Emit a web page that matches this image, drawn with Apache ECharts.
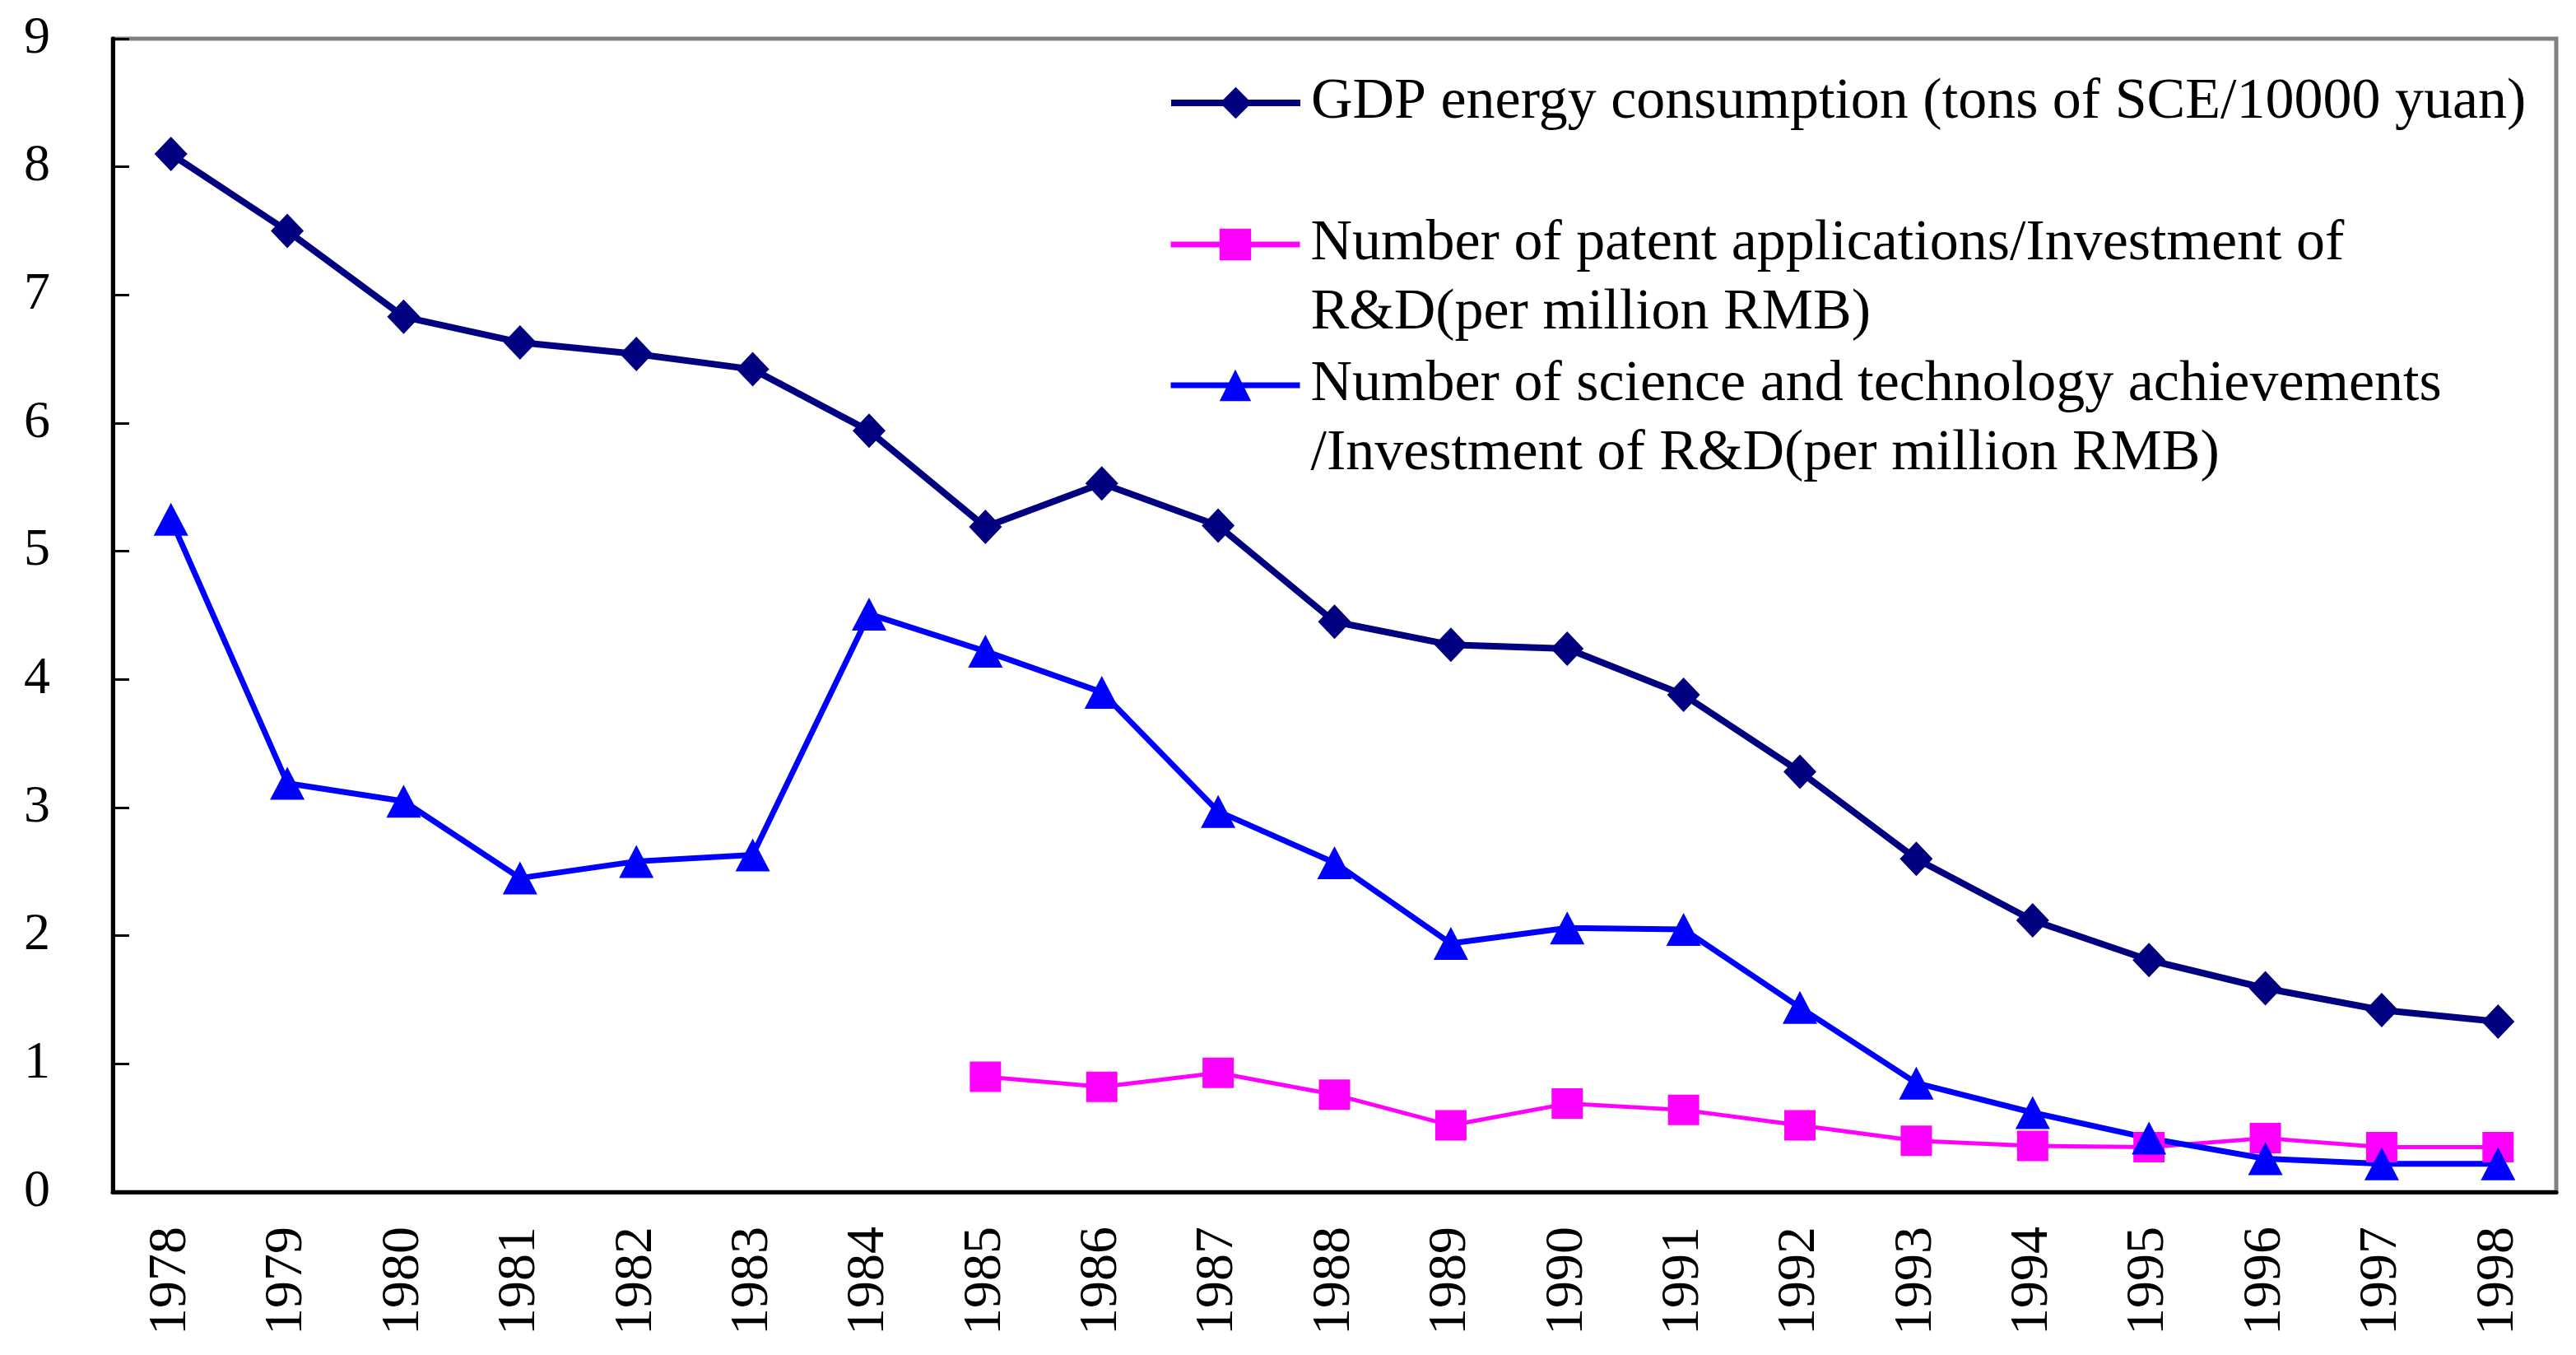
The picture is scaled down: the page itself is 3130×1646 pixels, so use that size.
<!DOCTYPE html>
<html>
<head>
<meta charset="utf-8">
<script src="https://cdn.jsdelivr.net/npm/echarts@6/dist/echarts.min.js"></script>
<style>
    html, body { margin: 0; padding: 0; background: #fff; }
    #div_chart { width: 3130px; height: 1646px; }
</style>
</head>
<body>
<div id="div_chart"></div>
<script>
// years on the x axis
var years = ['1978', '1979', '1980', '1981', '1982', '1983', '1984', '1985', '1986', '1987', '1988',
    '1989', '1990', '1991', '1992', '1993', '1994', '1995', '1996', '1997', '1998'];
// GDP energy consumption (tons of SCE/10000 yuan)
var gdpEnergy = [8.10, 7.50, 6.83, 6.63, 6.54, 6.42, 5.94, 5.19, 5.53, 5.20, 4.45,
    4.27, 4.24, 3.88, 3.28, 2.60, 2.12, 1.81, 1.59, 1.42, 1.33];
// patent applications / R&D investment, no data before 1985
var patentPerRD = [null, null, null, null, null, null, null, 0.90, 0.82, 0.93, 0.76,
    0.52, 0.69, 0.64, 0.52, 0.40, 0.36, 0.35, 0.42, 0.35, 0.35];
// science and technology achievements / R&D investment
var achievePerRD = [5.25, 3.19, 3.05, 2.45, 2.58, 2.63, 4.51, 4.22, 3.90, 2.97, 2.57,
    1.94, 2.06, 2.05, 1.44, 0.85, 0.62, 0.42, 0.26, 0.22, 0.22];
// y axis range
var yMin = 0, yMax = 9, yStep = 1;

var names = [
    'GDP energy consumption (tons of SCE/10000 yuan)',
    'Number of patent applications/Investment of R&D(per million RMB)',
    'Number of science and technology achievements /Investment of R&D(per million RMB)'
];
// legend text, first line sits beside the icon
var legendText = {};
legendText[names[0]] = 'GDP energy consumption (tons of SCE/10000 yuan)';
legendText[names[1]] = ' \nNumber of patent applications/Investment of\nR&D(per million RMB)';
legendText[names[2]] = ' \nNumber of science and technology achievements\n/Investment of R&D(per million RMB)';

var appChart = {
    chart: null,
    font: 'Liberation Serif, Times New Roman, serif',
    init: function init() {
        this.chart = echarts.init(document.getElementById('div_chart'));
        this.chart.setOption(this.getOption());
    },
    //单个图例
    getLegend: function getLegend(name, top, lineWidth) {
        var that = this;
        return {
            data: [name],
            left: 1419,
            top: top,
            padding: 0,
            itemWidth: 157,
            itemHeight: 48,
            itemGap: 0,
            selectedMode: false,
            lineStyle: { width: lineWidth },
            formatter: function (n) {
                return legendText[n];
            },
            textStyle: {
                color: '#000',
                fontFamily: that.font,
                fontSize: 70,
                lineHeight: 84,
                padding: [0, 0, 0, 8]
            }
        };
    },
    getOption: function getOption() {
        var that = this;
        var option = {
            animation: false,
            backgroundColor: '#fff',
            grid: {
                left: 137,
                right: 24,
                top: 47,
                bottom: 198,
                show: true,
                borderColor: '#808080',
                borderWidth: 5
            },
            legend: [
                that.getLegend(names[0], 83, 8),
                that.getLegend(names[1], 171, 7),
                that.getLegend(names[2], 342, 7)
            ],
            xAxis: {
                type: 'category',
                data: years,
                boundaryGap: true,
                axisLine: { lineStyle: { color: '#000', width: 5 } },
                axisTick: { inside: true, length: 20, interval: 0, lineStyle: { color: '#000', width: 3 } },
                axisLabel: {
                    interval: 0,
                    rotate: 90,
                    margin: 42,
                    color: '#000',
                    fontFamily: that.font,
                    fontSize: 66
                },
                splitLine: { show: false }
            },
            yAxis: {
                type: 'value',
                min: yMin,
                max: yMax,
                interval: yStep,
                axisLine: { show: true, lineStyle: { color: '#000', width: 5 } },
                axisTick: { show: true, inside: true, length: 20, lineStyle: { color: '#000', width: 3 } },
                axisLabel: {
                    margin: 76,
                    color: '#000',
                    fontFamily: that.font,
                    fontSize: 64
                },
                splitLine: { show: false }
            },
            series: [{
                name: names[0],
                type: 'line',
                data: gdpEnergy,
                symbol: 'diamond',
                symbolSize: [40, 42],
                itemStyle: { color: '#000080' },
                lineStyle: { color: '#000080', width: 8 }
            }, {
                name: names[1],
                type: 'line',
                data: patentPerRD,
                symbol: 'rect',
                symbolSize: [38, 37],
                itemStyle: { color: '#FF00FF' },
                lineStyle: { color: '#FF00FF', width: 5 }
            }, {
                name: names[2],
                type: 'line',
                data: achievePerRD,
                symbol: 'triangle',
                symbolSize: [42, 40],
                itemStyle: { color: '#0000FF' },
                lineStyle: { color: '#0000FF', width: 7 }
            }]
        };
        return option;
    }
};
window.onload = function () {
    appChart.init();
};
</script>
</body>
</html>
